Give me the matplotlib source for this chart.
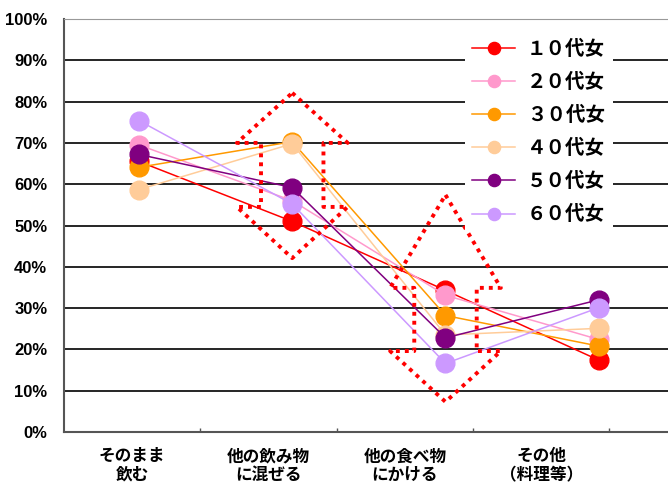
import matplotlib
matplotlib.use("Agg")
import matplotlib.pyplot as plt
from matplotlib.ticker import FixedLocator

# 飲み方別の割合（年代別・女性）
categories = ["そのまま\n飲む", "他の飲み物\nに混ぜる", "他の食べ物\nにかける", "その他\n（料理等）"]
groups = ["１０代女", "２０代女", "３０代女", "４０代女", "５０代女", "６０代女"]
colors = ["#FF0000", "#FF99CC", "#FF9900", "#FFCC99", "#800080", "#CC99FF"]

teens = [65.5, 51.0, 34.3, 17.4]
twenties = [69.5, 56.0, 33.1, 22.4]
thirties = [64.1, 70.3, 28.2, 20.8]
forties = [58.7, 69.8, 23.5, 25.1]
fifties = [67.2, 59.2, 22.8, 32.0]
sixties = [75.4, 55.2, 16.6, 30.1]
series = [teens, twenties, thirties, forties, fifties, sixties]

yticks = list(range(0, 101, 10))

# 上下矢印の範囲（下端, 矢じり下, 矢じり上, 上端）
arrow_cats = [1, 2]
arrow_levels = [(42.1, 54.5, 70.0, 82.1), (7.3, 19.6, 34.9, 57.4)]

jp = ["Noto Sans CJK JP", "DejaVu Sans"]

fig = plt.figure(figsize=(6.68, 4.83), dpi=100)
ax = fig.add_axes([64 / 668, 51 / 483, 604 / 668, 413 / 483])

# 折れ線の点は区分の目盛りと少しずれた位置に並ぶ
xs = [0.05 + 1.124 * i for i in range(len(categories))]

for vals, name, c in zip(series, groups, colors):
    ax.plot(xs, vals, color=c, lw=1.1, marker="o", ms=13.5,
            markeredgecolor=c, label=name)

# 赤い点線の上下矢印
hw, sw = 0.406, 0.229
for cat, (y0, y1, y2, y3) in zip(arrow_cats, arrow_levels):
    cx = xs[cat]
    px = [cx, cx + hw, cx + sw, cx + sw, cx + hw, cx, cx - hw, cx - sw, cx - sw, cx - hw, cx]
    py = [y3, y2, y2, y1, y1, y0, y1, y1, y2, y2, y3]
    ax.plot(px, py, color="#FF0000", lw=2.8, linestyle=(0, (1, 1.3)), zorder=5)

ax.set_ylim(0, 100)
ax.set_xlim(-0.5, 3.93)
ax.set_yticks(yticks)
ax.set_yticklabels([f"{v}%" for v in yticks],
                   fontfamily="Liberation Sans", fontweight="bold", fontsize=12)
ax.tick_params(axis="y", length=0, pad=12)
ax.grid(axis="y", color="black", lw=1.2)
ax.set_axisbelow(True)

ax.set_xticks(range(len(categories)))
ax.set_xticklabels(categories, fontfamily=jp, fontweight="bold", fontsize=12,
                   linespacing=1.05)
ax.tick_params(axis="x", which="major", length=0, pad=11)
ax.xaxis.set_minor_locator(FixedLocator([0.5, 1.5, 2.5, 3.5]))
ax.tick_params(axis="x", which="minor", direction="in", length=3, width=1, color="#555555")

for side in ["left", "bottom"]:
    ax.spines[side].set_color("#555555")
    ax.spines[side].set_linewidth(1.5)
ax.spines["top"].set_color("#999999")
ax.spines["right"].set_visible(False)

leg = ax.legend(loc="upper left", bbox_to_anchor=(455 / 668, 1 - 22 / 483),
                bbox_transform=fig.transFigure, prop={"family": jp, "weight": "bold", "size": 14},
                frameon=True, facecolor="white", edgecolor="none", framealpha=1,
                markerscale=0.65, handlelength=2.2, labelspacing=0.72,
                handletextpad=0.6, borderpad=0.4, fancybox=False)
leg.set_zorder(10)

fig.savefig("out.png", dpi=100)
